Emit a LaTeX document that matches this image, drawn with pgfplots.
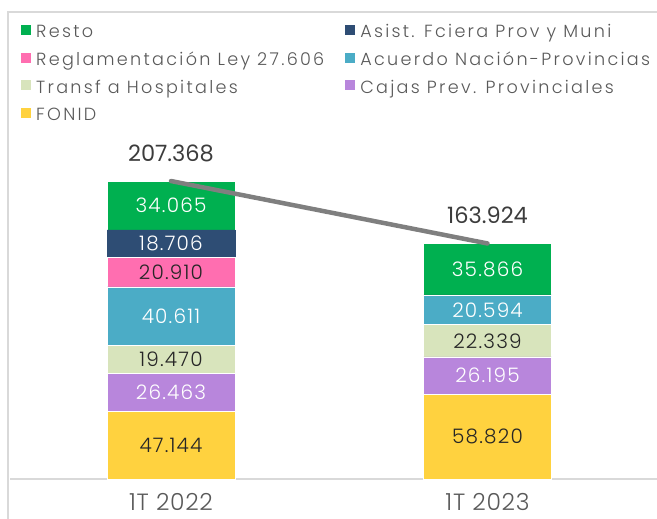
\documentclass[border=0pt]{standalone}
\usepackage{fontspec}
\setmainfont{Poppins}[UprightFont={* Light}]
\newfontfamily\regfont{Poppins}
\usepackage{pgfplots}
\pgfplotsset{compat=1.18}
\definecolor{cResto}{HTML}{00B050}
\definecolor{cAsist}{HTML}{2E4D74}
\definecolor{cRegl}{HTML}{FF6EB0}
\definecolor{cAcuerdo}{HTML}{4BACC6}
\definecolor{cTransf}{HTML}{D8E4BC}
\definecolor{cCajas}{HTML}{B886DC}
\definecolor{cFonid}{HTML}{FFD23F}
\definecolor{framegray}{HTML}{D9D9D9}
\definecolor{txtdark}{HTML}{262626}
\definecolor{txtgray}{HTML}{595959}
\definecolor{linegray}{HTML}{7F7F7F}

\begin{document}
\begin{tikzpicture}[x=1pt,y=1pt]
\useasboundingbox (0,0) rectangle (657,519);
\draw[framegray, line width=1.5pt] (8,-2) -- (8,507) -- (660,507);

% stacked bars
\begin{axis}[
  at={(10pt,40pt)}, anchor=south west,
  width=647pt, height=348pt, scale only axis,
  xmin=-0.5087, xmax=1.5355, ymin=0, ymax=242.2,
  ybar stacked, bar width=0.4044,
  axis y line=none, axis x line=bottom,
  x axis line style={draw=framegray, line width=1.5pt, -},
  xtick={0,1}, xticklabels={1T 2022,1T 2023},
  ytick=\empty, major tick length=0pt,
  xticklabel style={font=\fontsize{23.5}{26}\selectfont\addfontfeatures{LetterSpace=3}, text=txtgray, anchor=north, inner sep=0pt, yshift=-14pt},
  clip=false,
  every axis plot/.append style={draw=white, line width=0.6pt},
  reverse legend, legend columns=2, legend cell align=left,
  legend image code/.code={\fill[#1, draw=none] (0pt,-2.25pt) rectangle (10pt,7.75pt);},
  legend style={draw=none, fill=none, inner sep=0pt,
    at={(axis description cs:0.017,1.3066)}, anchor=north west,
    font=\fontsize{17.6}{20}\selectfont\addfontfeatures{LetterSpace=13}, text=txtgray,
    row sep=11.8pt,
    nodes={inner sep=0pt, text height=13pt, text depth=3pt},
    /tikz/every odd column/.append style={column sep=5pt},
    /tikz/every even column/.append style={column sep=21pt}},
]
\addplot[fill=cFonid]    coordinates {(0,47.144) (1,58.820)};  \addlegendentry{FONID}
\addplot[fill=cCajas]    coordinates {(0,26.463) (1,26.195)};  \addlegendentry{Cajas Prev. Provinciales}
\addplot[fill=cTransf]   coordinates {(0,19.470) (1,22.339)};  \addlegendentry{Transf a Hospitales}
\addplot[fill=cAcuerdo]  coordinates {(0,40.611) (1,20.594)};  \addlegendentry{Acuerdo Nación-Provincias}
\addplot[fill=cRegl]     coordinates {(0,20.910) (1,0)};       \addlegendentry{Reglamentación Ley 27.606}
\addplot[fill=cAsist, draw=cAsist, line width=0.4pt] coordinates {(0,18.706) (1,0.110)}; \addlegendentry{Asist. Fciera Prov y Muni}
\addplot[fill=cResto]    coordinates {(0,34.065) (1,35.866)};  \addlegendentry{Resto}
\end{axis}

% totals line and labels
\begin{axis}[
  at={(10pt,40pt)}, anchor=south west,
  width=647pt, height=348pt, scale only axis,
  xmin=-0.5087, xmax=1.5355, ymin=0, ymax=242.2,
  hide axis, clip=false,
]
\addplot[linegray, line width=4.5pt, line cap=round, mark=none,
  nodes near coords, point meta=explicit symbolic,
  every node near coord/.style={anchor=center, yshift=28pt, text=txtdark!90,
    font=\regfont\fontsize{22.5}{25}\selectfont}]
  coordinates {(0,207.368) [207.368] (1,163.924) [163.924]};
% segment labels, white text
\addplot[draw=none, mark=none, nodes near coords, point meta=explicit symbolic,
  every node near coord/.style={anchor=center, text=white, font=\fontsize{20}{23}\selectfont\addfontfeatures{LetterSpace=6}}]
  table[meta=lab] {
x y lab
0 190.3365 34.065
0 163.951 18.706
0 113.3825 40.611
0 60.3755 26.463
1 145.991 35.866
1 117.651 20.594
1 71.9175 26.195
};
% segment labels, dark text
\addplot[draw=none, mark=none, nodes near coords, point meta=explicit symbolic,
  every node near coord/.style={anchor=center, text=txtdark, font=\fontsize{20}{23}\selectfont\addfontfeatures{LetterSpace=6}}]
  table[meta=lab] {
x y lab
0 144.143 20.910
0 83.342 19.470
0 23.572 47.144
1 96.1845 22.339
1 29.410 58.820
};
\end{axis}
\end{tikzpicture}
\end{document}
